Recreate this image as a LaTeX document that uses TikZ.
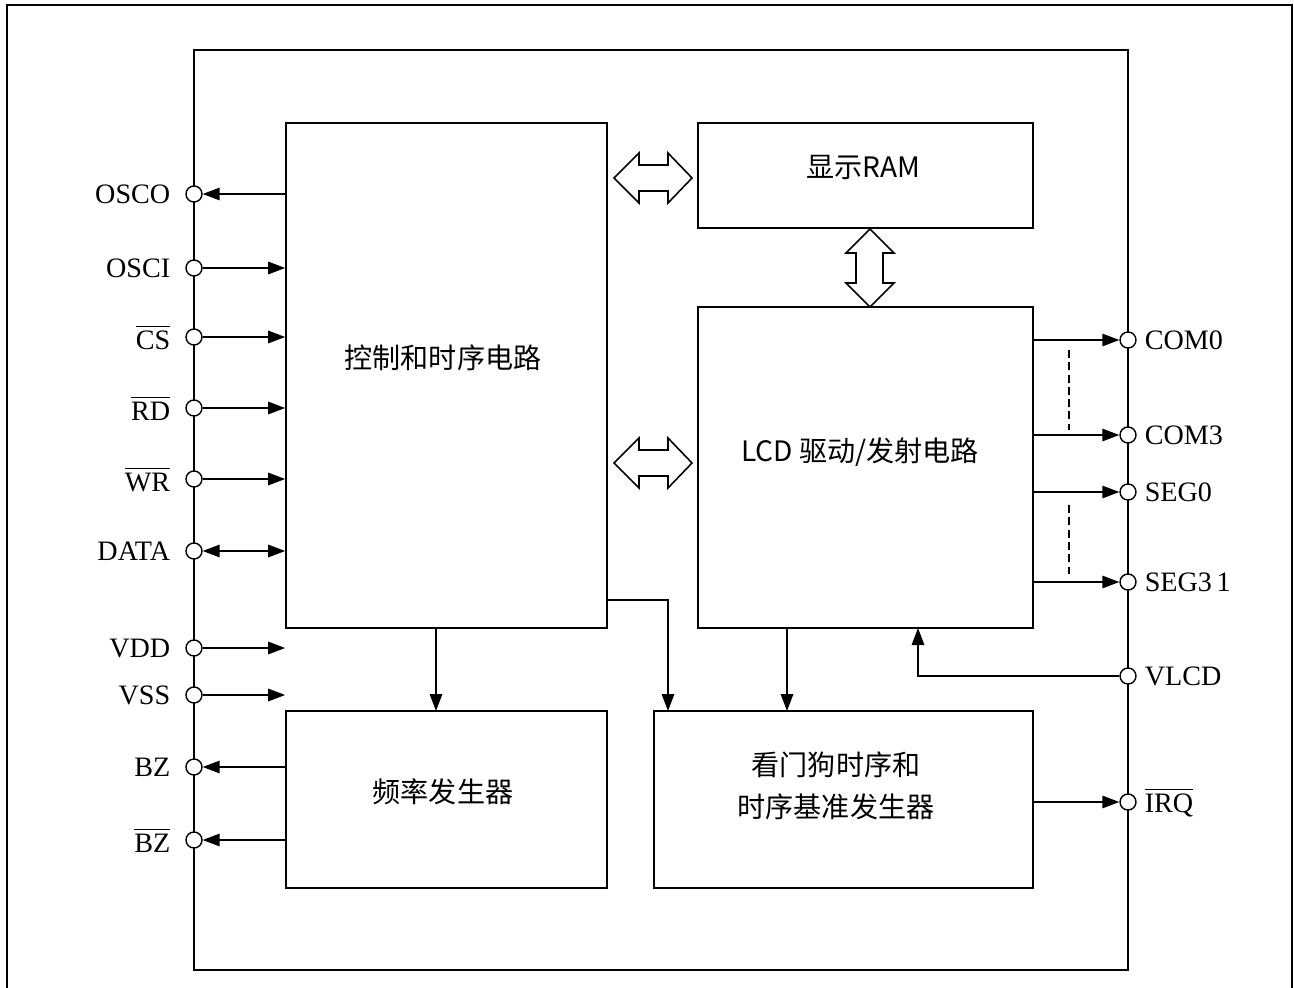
\documentclass[tikz,border=0pt]{standalone}
\usepackage{fontspec}
\usepackage{amsmath}
\setmainfont{Liberation Serif}
\newfontfamily\cjk{Noto Sans CJK SC}
\usetikzlibrary{arrows.meta}

\tikzset{
  block/.style={draw=black,line width=1pt,rectangle,inner sep=0pt},
  pad/.style={circle,draw=black,fill=white,line width=0.8pt,minimum size=0.32cm,inner sep=0pt},
  lbl/.style={font=\fontsize{16}{17}\selectfont,inner sep=1pt},
  blk/.style={font=\cjk\fontsize{16}{24}\selectfont,align=center},
  sig/.style={line width=0.9pt,-{Triangle[length=0.34cm,width=0.25cm]}},
  sigs/.style={line width=0.9pt,{Triangle[length=0.34cm,width=0.25cm]}-{Triangle[length=0.34cm,width=0.25cm]}},
  hollow/.style={draw=black,line width=0.9pt,fill=white,line join=miter},
  gap/.style={line width=0.8pt,dash pattern=on 4.5pt off 2.5pt}
}

\begin{document}
\begin{tikzpicture}[x=0.02cm,y=-0.02cm]
   \useasboundingbox (0,0) rectangle (1294,987);
   % frame and chip outline
   \draw[line width=1.2pt] (7,990) -- (7,5) -- (1292,5) -- (1292,990);
   \draw[line width=1pt] (194,50) rectangle (1128,970);

   % blocks
   \node[block,minimum width=6.42cm,minimum height=10.1cm] (ctrl) at (446.5,375.5) {};
   \node[block,minimum width=6.7cm,minimum height=2.1cm] (ram) at (865.5,175.5) {};
   \node[block,minimum width=6.7cm,minimum height=6.42cm] (lcd) at (865.5,467.5) {};
   \node[block,minimum width=6.42cm,minimum height=3.54cm] (freq) at (446.5,799.5) {};
   \node[block,minimum width=7.58cm,minimum height=3.54cm] (wdt) at (843.5,799.5) {};
   \node[blk] (ctrltxt) at (443,358) {控制和时序电路};
   \node[blk] (ramtxt) at (863,167) {显示RAM};
   \node[blk] (lcdtxt) at (860,452) {LCD 驱动/发射电路};
   \node[blk] (freqtxt) at (443,792) {频率发生器};
   \node[blk] (wdttxt) at (836,786) {看门狗时序和\\时序基准发生器};

   % left pins
   \begin{scope}[every label/.style={lbl,label distance=0.26cm}]
    \node[pad,label=left:OSCO] (osco) at (194,194) {};
    \node[pad,label=left:OSCI] (osci) at (194,268) {};
    \node[pad,label=left:{$\overline{\mbox{CS}}$}] (cs) at (194,337) {};
    \node[pad,label=left:{$\overline{\mbox{RD}}$}] (rd) at (194,408) {};
    \node[pad,label=left:{$\overline{\mbox{WR}}$}] (wr) at (194,479) {};
    \node[pad,label=left:DATA] (data) at (194,551) {};
    \node[pad,label=left:VDD] (vdd) at (194,648) {};
    \node[pad,label=left:VSS] (vss) at (194,695) {};
    \node[pad,label=left:BZ] (bz) at (194,767) {};
    \node[pad,label=left:{$\overline{\mbox{BZ}}$}] (bzn) at (194,840) {};
   \end{scope}

   % right pins
   \begin{scope}[every label/.style={lbl,label distance=0.12cm}]
    \node[pad,label=right:COM0] (com0) at (1128,340) {};
    \node[pad,label=right:COM3] (com3) at (1128,435) {};
    \node[pad,label=right:SEG0] (seg0) at (1128,492) {};
    \node[pad,label=right:SEG3\,1] (seg31) at (1128,582) {};
    \node[pad,label=right:VLCD] (vlcd) at (1128,676) {};
    \node[pad,label=right:{$\overline{\mbox{IRQ}}$}] (irq) at (1128,802) {};
   \end{scope}

   % left connections
   \draw[sig] (ctrl.west |- osco) -- (osco);
   \draw[sig] (osci) -- (ctrl.west |- osci);
   \draw[sig] (cs) -- (ctrl.west |- cs);
   \draw[sig] (rd) -- (ctrl.west |- rd);
   \draw[sig] (wr) -- (ctrl.west |- wr);
   \draw[sigs] (data) -- (ctrl.west |- data);
   \draw[sig] (vdd) -- (ctrl.west |- vdd);
   \draw[sig] (vss) -- (ctrl.west |- vss);
   \draw[sig] (freq.west |- bz) -- (bz);
   \draw[sig] (freq.west |- bzn) -- (bzn);

   % right connections
   \draw[sig] (lcd.east |- com0) -- (com0);
   \draw[sig] (lcd.east |- com3) -- (com3);
   \draw[sig] (lcd.east |- seg0) -- (seg0);
   \draw[sig] (lcd.east |- seg31) -- (seg31);
   \draw[sig] (wdt.east |- irq) -- (irq);
   \draw[sig] (vlcd) -| (918,628);
   \draw[gap] (1069,350) -- (1069,430);
   \draw[gap] (1069,505) -- (1069,578);

   % internal connections
   \draw[sig] (436,628) -- (436,711);
   \draw[sig] (607,600) -| (668,711);
   \draw[sig] (787,628) -- (787,711);

   % hollow bus arrows
   \foreach \yy in {178,463} {
    \draw[hollow] (614,\yy) -- ++(25,-25) -- ++(0,12) -- ++(29,0) -- ++(0,-12) -- ++(24,25)
      -- ++(-24,25) -- ++(0,-12) -- ++(-29,0) -- ++(0,12) -- cycle;
   }
   \draw[hollow] (870,229) -- ++(24,24) -- ++(-11,0) -- ++(0,30) -- ++(11,0) -- ++(-24,24)
      -- ++(-24,-24) -- ++(10,0) -- ++(0,-30) -- ++(-10,0) -- cycle;
\end{tikzpicture}
\end{document}
